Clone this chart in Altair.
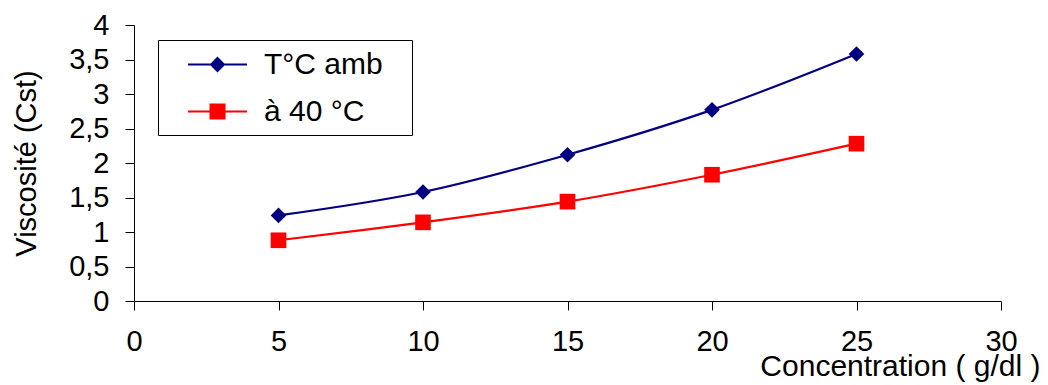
import altair as alt
import pandas as pd

# Viscosity (Cst) versus concentration (g/dl), two temperatures
concentration = [5, 10, 15, 20, 25]
visc_amb = [1.24, 1.58, 2.12, 2.77, 3.58]
visc_40 = [0.88, 1.14, 1.44, 1.83, 2.28]

series_names = ["T°C amb", "à 40 °C"]
series_colors = ["#000080", "#ff0000"]
marker_shapes = ["diamond", "square"]

x_ticks = [0, 5, 10, 15, 20, 25, 30]
y_ticks = [0, 0.5, 1, 1.5, 2, 2.5, 3, 3.5, 4]

rows = []
for name, values in zip(series_names, [visc_amb, visc_40]):
    for c, v in zip(concentration, values):
        rows.append({"concentration": c, "viscosite": v, "serie": name})
df = pd.DataFrame(rows)

FONT = "Liberation Sans"

# legend symbols: a short line segment with the marker sitting on it
legend_paths = [
    "M-2.95,0H2.95M0,-0.65L0.65,0L0,0.65L-0.65,0Z",
    "M-2.95,0H2.95M-0.7,-0.7H0.7V0.7H-0.7Z",
]

x_enc = alt.X(
    "concentration:Q",
    scale=alt.Scale(domain=[0, 30], nice=False),
    axis=alt.Axis(
        values=x_ticks,
        title="Concentration ( g/dl )",
        grid=False,
        domainColor="black",
        tickColor="black",
        tickSize=9,
        labelFlush=False,
        labelFont=FONT,
        labelFontSize=29,
        labelColor="black",
        labelBaseline="alphabetic",
        labelPadding=40,
        titleFont=FONT,
        titleFontSize=30,
        titleFontWeight="normal",
        titleColor="black",
        titleAlign="right",
        titleBaseline="alphabetic",
        titleX=906,
        titleY=74,
    ),
)
y_enc = alt.Y(
    "viscosite:Q",
    scale=alt.Scale(domain=[0, 4], nice=False),
    axis=alt.Axis(
        values=y_ticks,
        title="Viscosité (Cst)",
        grid=False,
        domainColor="black",
        tickColor="black",
        tickSize=9,
        labelFlush=False,
        labelExpr="replace(format(datum.value, '~g'), '.', ',')",
        labelFont=FONT,
        labelFontSize=29,
        labelColor="black",
        labelPadding=16,
        titleFont=FONT,
        titleFontSize=29,
        titleFontWeight="normal",
        titleColor="black",
        titleAngle=270,
        titleAlign="center",
        titleBaseline="alphabetic",
        titleX=-99,
        titleY=138,
    ),
)

# shared legend styling (one entry per legend, stacked inside one frame)
legend_common = dict(
    orient="none",
    legendX=24,
    padding=9.5,
    title=None,
    symbolSize=400,
    symbolStrokeWidth=2,
    symbolOffset=35,
    labelOffset=31.5,
    labelFont=FONT,
    labelFontSize=30,
    labelColor="black",
    labelLimit=400,
)
legends = [
    alt.Legend(legendY=15, symbolType=legend_paths[0],
               symbolStrokeColor=series_colors[0], **legend_common),
    alt.Legend(legendY=62, symbolType=legend_paths[1],
               symbolStrokeColor=series_colors[1], **legend_common),
]

# frame around the legend entries
frame = alt.Chart(pd.DataFrame({"cadre": [0]})).mark_rect(
    fill="white", stroke="black", strokeWidth=1
).encode(
    x=alt.value(24.5), x2=alt.value(278.5), y=alt.value(15.5), y2=alt.value(110.5)
)

layers = [frame]
for i, (name, col, shp) in enumerate(zip(series_names, series_colors, marker_shapes)):
    base = alt.Chart(df).transform_filter(alt.datum.serie == name)
    line = base.mark_line(
        color=col, strokeWidth=2.2, interpolate="catmull-rom"
    ).encode(x=x_enc, y=y_enc)
    pts = base.mark_point(
        filled=True, opacity=1, size=245, shape=shp
    ).encode(
        x=x_enc,
        y=y_enc,
        color=alt.Color(
            "serie:N",
            scale=alt.Scale(domain=[name], range=[col]),
            legend=legends[i],
        ),
    )
    layers += [line, pts]

chart = (
    alt.layer(*layers)
    .resolve_scale(color="independent")
    .resolve_legend(color="independent")
    .properties(
        width=867,
        height=276,
        autosize=alt.AutoSizeParams(type="none"),
        padding={"left": 134, "top": 25, "right": 47, "bottom": 84},
        background="white",
    )
    .configure_view(stroke=None)
)

chart.save("out.html", embed_options={"renderer": "svg", "actions": False})
